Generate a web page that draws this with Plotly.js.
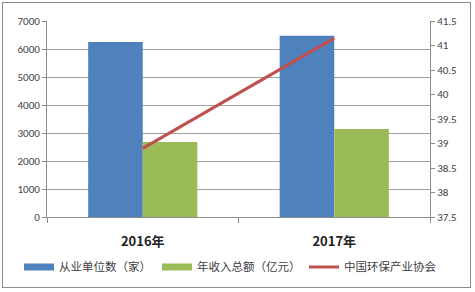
<!DOCTYPE html>
<html>
<head>
<meta charset="utf-8">
<script src="https://cdn.plot.ly/plotly-3.0.1.min.js"></script>
<style>
html,body{margin:0;padding:0;background:#fff;}
#chart{width:475px;height:292px;}
#frame{position:absolute;left:2px;top:2px;width:467px;height:284px;border:1px solid #8c8c8c;pointer-events:none;}
</style>
</head>
<body>
<div id="chart"></div>
<div id="frame"></div>
<script>
const categories = ["2016年", "2017年"];
const unitCounts = [6250, 6470];
const revenue = [2680, 3140];
const lineValues = [38.9, 41.15];
const seriesNames = ["从业单位数（家）", "年收入总额（亿元）", "中国环保产业协会"];
const leftTicks = [0, 1000, 2000, 3000, 4000, 5000, 6000, 7000];
const rightTicks = [37.5, 38, 38.5, 39, 39.5, 40, 40.5, 41, 41.5];

const colors = ["#4F81BD", "#9BBB59", "#C0504D"];
const font = "Calibri, 'Liberation Sans', 'Noto Sans CJK SC', sans-serif";

const traces = [
  {type: "bar", x: categories, y: unitCounts, name: seriesNames[0], marker: {color: colors[0]}, showlegend: false, yaxis: "y"},
  {type: "bar", x: categories, y: revenue, name: seriesNames[1], marker: {color: colors[1]}, showlegend: false, yaxis: "y"},
  {type: "scatter", mode: "lines", x: categories, y: lineValues, name: seriesNames[2], line: {color: colors[2], width: 3}, showlegend: false, yaxis: "y2"},
  {type: "scatter", mode: "lines", x: [null], y: [null], name: seriesNames[0], line: {color: colors[0], width: 7}, yaxis: "y", legend: "legend"},
  {type: "scatter", mode: "lines", x: [null], y: [null], name: seriesNames[1], line: {color: colors[1], width: 7}, yaxis: "y", legend: "legend2"},
  {type: "scatter", mode: "lines", x: [null], y: [null], name: seriesNames[2], line: {color: colors[2], width: 3}, yaxis: "y", legend: "legend3"}
];

function leg(xpx) {
  return {orientation: "h", xref: "container", yref: "container", x: xpx / 475, xanchor: "left",
          y: 0.086, yanchor: "middle", bgcolor: "rgba(0,0,0,0)",
          font: {size: 11.5, color: "#404040", family: "'Noto Sans CJK SC', sans-serif"}, itemwidth: 30};
}

const layout = {
  width: 475, height: 292,
  margin: {l: 47, r: 45, t: 21, b: 75},
  paper_bgcolor: "#ffffff", plot_bgcolor: "#ffffff",
  font: {family: font, size: 11, color: "#404040"},
  barmode: "group", bargap: 0.43, bargroupgap: 0,
  showlegend: true,
  legend: leg(19), legend2: leg(157), legend3: leg(304),
  xaxis: {type: "category", showline: true, linecolor: "#8c8c8c", linewidth: 1,
          ticks: "outside", tickson: "boundaries", ticklen: 5, tickcolor: "#8c8c8c",
          ticklabelstandoff: 12,
          tickfont: {size: 13, color: "#222", family: "'Noto Sans CJK SC', sans-serif", weight: "bold"},
          showgrid: false, zeroline: false},
  yaxis: {range: [0, 7000], tickvals: leftTicks, showline: true, linecolor: "#8c8c8c", linewidth: 1,
          ticks: "outside", ticklen: 4, tickcolor: "#8c8c8c", gridcolor: "#a0a0a0", gridwidth: 1,
          zeroline: false, tickfont: {size: 11, color: "#404040"}},
  yaxis2: {range: [37.5, 41.5], tickvals: rightTicks, overlaying: "y", side: "right",
           showline: true, linecolor: "#8c8c8c", linewidth: 1, ticks: "outside", ticklen: 4, tickcolor: "#8c8c8c",
           showgrid: false, zeroline: false, tickfont: {size: 11, color: "#404040"}}
};

Plotly.newPlot("chart", traces, layout, {displayModeBar: false, staticPlot: true});
</script>
</body>
</html>
